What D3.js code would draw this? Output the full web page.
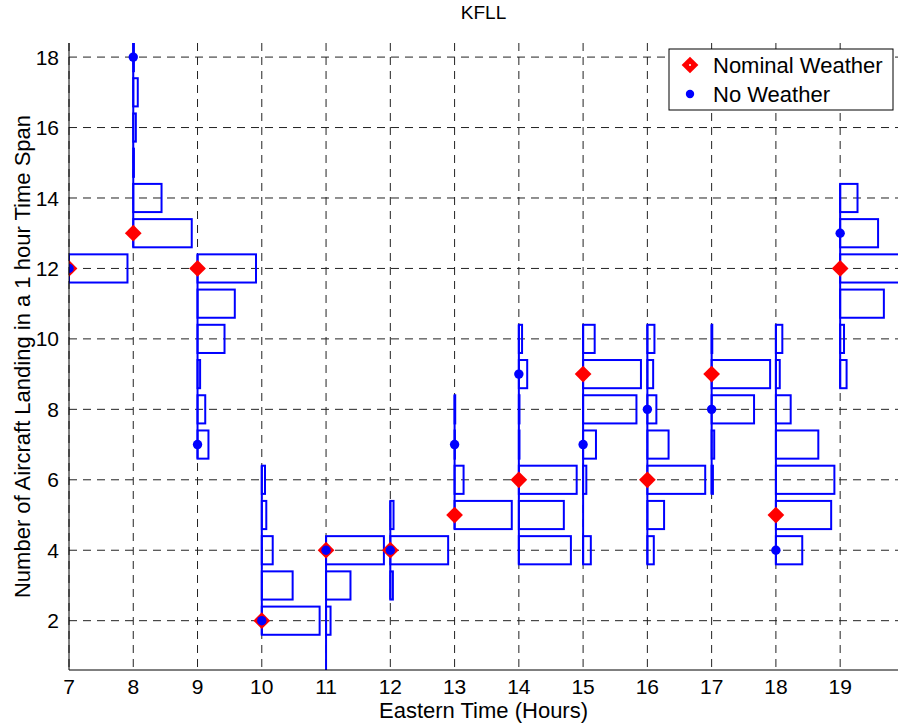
<!DOCTYPE html>
<html>
<head>
<meta charset="utf-8">
<script src="https://cdn.jsdelivr.net/npm/d3@7"></script>
<style>
  body { margin: 0; background: #fff; }
  text { font-family: "Liberation Sans", Arial, sans-serif; fill: #000; }
</style>
</head>
<body>
<svg id="chart"></svg>
<script>
// one histogram per hour, bins are counts of aircraft landing
const hours = [7, 8, 9, 10, 11, 12, 13, 14, 15, 16, 17, 18, 19];
const binStart = [12, 13, 7, 2, 1, 3, 5, 4, 4, 4, 6, 4, 9];
const binWidths = [
  [0.91],
  [0.91, 0.44, 0.01, 0.04, 0.07, 0.01],
  [0.17, 0.12, 0.04, 0.42, 0.58, 0.91],
  [0.9, 0.48, 0.17, 0.07, 0.05],
  [0.0, 0.07, 0.38, 0.9],
  [0.04, 0.9, 0.05],
  [0.89, 0.14, 0.005, 0.01],
  [0.81, 0.7, 0.9, 0.01, 0.01, 0.13, 0.05],
  [0.12, 0.0, 0.05, 0.2, 0.83, 0.9, 0.18],
  [0.1, 0.26, 0.9, 0.33, 0.14, 0.09, 0.11],
  [0.02, 0.04, 0.66, 0.91, 0.01],
  [0.41, 0.86, 0.91, 0.66, 0.23, 0.06, 0.1],
  [0.1, 0.06, 0.68, 0.92, 0.59, 0.27]
];
const nominal = [12, 13, 12, 2, 4, 4, 5, 6, 9, 6, 9, 5, 12];
const noWeather = [12, 18, 7, 2, 4, 4, 7, 9, 7, 8, 8, 4, 13];
const xTicks = [7, 8, 9, 10, 11, 12, 13, 14, 15, 16, 17, 18, 19];
const yTicks = [2, 4, 6, 8, 10, 12, 14, 16, 18];

const width = 899, height = 726;
const plotL = 69, plotR = 898, plotT = 43, plotB = 670;
const barH = 0.8;

const svg = d3.select("#chart").attr("width", width).attr("height", height);

const x = d3.scaleLinear().domain([7, 19.9]).range([plotL, plotR]);
const y = d3.scaleLinear().domain([0.6, 18.4]).range([plotB, plotT]);

svg.append("defs").append("clipPath").attr("id", "plot")
  .append("rect")
  .attr("x", plotL).attr("y", plotT)
  .attr("width", plotR - plotL).attr("height", plotB - plotT);

// grid
const grid = svg.append("g").attr("stroke", "#222").attr("stroke-width", 1)
  .attr("stroke-dasharray", "8,6");
grid.selectAll(".gx").data(xTicks).enter().append("line")
  .attr("x1", d => x(d)).attr("x2", d => x(d))
  .attr("y1", plotT).attr("y2", plotB);
grid.selectAll(".gy").data(yTicks).enter().append("line")
  .attr("x1", plotL).attr("x2", plotR)
  .attr("y1", d => y(d)).attr("y2", d => y(d));

// histogram bars
const bars = [];
hours.forEach((h, i) => {
  binWidths[i].forEach((w, j) => bars.push({ hour: h, bin: binStart[i] + j, w: w }));
});

const plot = svg.append("g").attr("clip-path", "url(#plot)");

plot.selectAll("rect.bar").data(bars).enter().append("rect")
  .attr("class", "bar")
  .attr("x", d => x(d.hour))
  .attr("y", d => y(d.bin + barH / 2))
  .attr("width", d => x(d.hour + d.w) - x(d.hour))
  .attr("height", d => y(d.bin - barH / 2) - y(d.bin + barH / 2))
  .attr("fill", "none")
  .attr("stroke", "#0000ff")
  .attr("stroke-width", 2);

// baseline of each histogram
plot.selectAll("line.base").data(hours).enter().append("line")
  .attr("class", "base")
  .attr("x1", d => x(d)).attr("x2", d => x(d))
  .attr("y1", (d, i) => y(binStart[i] - barH / 2))
  .attr("y2", (d, i) => y(binStart[i] + binWidths[i].length - 1 + barH / 2))
  .attr("stroke", "#0000ff")
  .attr("stroke-width", 2);

// square turned 45 degrees, like the matlab diamond
const diamond = d3.symbol().type(d3.symbolSquare).size(140);

plot.selectAll("path.nom").data(hours).enter().append("path")
  .attr("class", "nom")
  .attr("d", diamond)
  .attr("transform", (d, i) => "translate(" + x(d) + "," + y(nominal[i]) + ") rotate(45)")
  .attr("fill", "#ff0000");

plot.selectAll("circle.nw").data(hours).enter().append("circle")
  .attr("class", "nw")
  .attr("cx", d => x(d))
  .attr("cy", (d, i) => y(noWeather[i]))
  .attr("r", 4.7)
  .attr("fill", "#0000ff");

// axes
svg.append("line").attr("x1", plotL).attr("x2", plotL).attr("y1", plotT).attr("y2", plotB)
  .attr("stroke", "#000").attr("stroke-width", 1);
svg.append("line").attr("x1", plotL).attr("x2", plotR).attr("y1", plotB).attr("y2", plotB)
  .attr("stroke", "#000").attr("stroke-width", 1);

svg.append("g").selectAll("text").data(xTicks).enter().append("text")
  .attr("x", d => x(d)).attr("y", plotB + 24)
  .attr("text-anchor", "middle")
  .style("font-size", "21px")
  .text(d => d);

svg.append("g").selectAll("text").data(yTicks).enter().append("text")
  .attr("x", plotL - 10).attr("y", d => y(d))
  .attr("dy", "0.36em")
  .attr("text-anchor", "end")
  .style("font-size", "21px")
  .text(d => d);

svg.append("text")
  .attr("x", (plotL + plotR) / 2).attr("y", 718)
  .attr("text-anchor", "middle")
  .style("font-size", "22px")
  .text("Eastern Time (Hours)");

svg.append("text")
  .attr("transform", "translate(30," + (plotT + plotB) / 2 + ") rotate(-90)")
  .attr("text-anchor", "middle")
  .style("font-size", "22px")
  .text("Number of Aircraft Landing in a 1 hour Time Span");

svg.append("text")
  .attr("x", (plotL + plotR) / 2).attr("y", 19)
  .attr("text-anchor", "middle")
  .style("font-size", "19px")
  .text("KFLL");

// legend
const legend = svg.append("g");
legend.append("rect")
  .attr("x", 669).attr("y", 49).attr("width", 224).attr("height", 61)
  .attr("fill", "#fff").attr("stroke", "#000").attr("stroke-width", 1);
legend.append("path")
  .attr("d", diamond)
  .attr("transform", "translate(690,65) rotate(45)")
  .attr("fill", "#ff0000");
legend.append("circle").attr("cx", 690).attr("cy", 65).attr("r", 1).attr("fill", "#fff");
legend.append("circle").attr("cx", 690).attr("cy", 94).attr("r", 4.2).attr("fill", "#0000ff");
legend.append("text").attr("x", 713).attr("y", 65).attr("dy", "0.36em")
  .style("font-size", "22px").text("Nominal Weather");
legend.append("text").attr("x", 713).attr("y", 94).attr("dy", "0.36em")
  .style("font-size", "22px").text("No Weather");
</script>
</body>
</html>
